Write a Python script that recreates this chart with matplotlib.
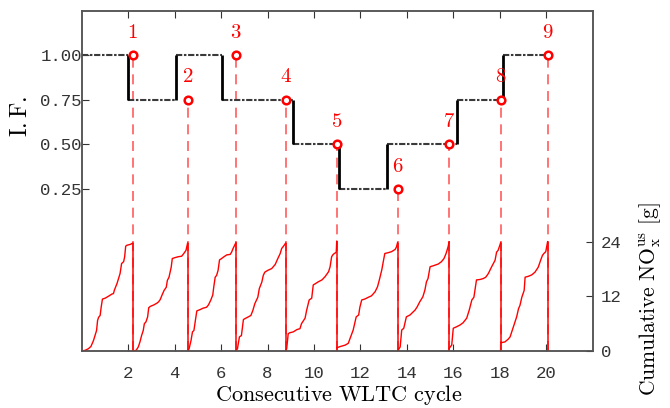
import matplotlib
matplotlib.use("Agg")
import matplotlib.pyplot as plt
import numpy as np

plt.rcParams["mathtext.fontset"] = "cm"
plt.rcParams["font.family"] = ["Liberation Mono", "DejaVu Sans Mono"]

# end of each WLTC cycle and the I.F. evaluated there
cycle_ends = [2.20, 4.56, 6.64, 8.78, 10.98, 13.60, 15.82, 18.04, 20.06]
if_at_end = [1.00, 0.75, 1.00, 0.75, 0.50, 0.25, 0.50, 0.75, 1.00]
point_labels = ["1", "2", "3", "4", "5", "6", "7", "8", "9"]

# running I.F. (step line)
step_edges = [0.0, 1.98, 4.05, 6.05, 9.08, 11.09, 13.13, 16.14, 18.15, 20.06]
step_levels = [1.00, 0.75, 1.00, 0.75, 0.50, 0.25, 0.50, 0.75, 1.00]

# cumulative NOx inside each cycle: fraction of cycle / grams
frac_1 = [0, .065, .13, .18, .23, .26, .29, .31, .33, .36, .38, .405, .46, .52, .59, .62, .64, .69, .72, .75, .78, .82, .84, .86, .88, .95, 1.0]
nox_1 = [0, .15, .5, 1.0, 2.3, 3.4, 4.5, 6.7, 7.4, 7.8, 9.6, 11.4, 11.6, 12.0, 12.5, 12.6, 13.4, 14.8, 15.9, 17.0, 19.2, 19.6, 20.7, 23.0, 23.2, 23.4, 23.7]
frac_2 = [0, .06, .10, .13, .16, .19, .21, .24, .27, .29, .32, .38, .44, .47, .50, .53, .57, .61, .63, .66, .68, .70, .72, .77, .83, .89, .93, .97, 1.0]
nox_2 = [0, .15, .9, 2.0, 3.4, 4.5, 6.0, 6.4, 7.5, 9.5, 9.8, 10.1, 10.5, 10.8, 11.3, 12.2, 13.3, 14.0, 15.5, 16.2, 17.3, 18.4, 20.3, 20.5, 20.7, 20.8, 21.4, 22.1, 23.7]
frac_3 = [0, .03, .07, .10, .13, .16, .19, .26, .32, .39, .43, .48, .52, .54, .57, .60, .63, .66, .69, .74, .81, .88, .91, .94, 1.0]
nox_3 = [0, .5, 2.3, 4.2, 4.5, 6.7, 8.8, 9.1, 9.4, 9.6, 10.1, 11.2, 12.3, 14.0, 16.2, 16.6, 17.7, 20.0, 20.2, 20.6, 21.1, 21.2, 21.7, 22.5, 23.8]
frac_4 = [0, .03, .07, .11, .15, .18, .25, .30, .34, .38, .44, .47, .52, .55, .58, .64, .72, .79, .83, .89, .92, .97, 1.0]
nox_4 = [0, .5, 3.1, 3.4, 6.9, 7.1, 7.5, 7.8, 8.9, 10.4, 11.8, 13.7, 15.1, 16.6, 17.3, 17.7, 18.1, 19.0, 20.0, 21.4, 22.5, 23.2, 23.7]
frac_5 = [0, .02, .05, .08, .15, .22, .28, .31, .38, .41, .46, .51, .54, .57, .64, .71, .77, .84, .87, .90, .93, .99, 1.0]
nox_5 = [0, .5, 3.8, 4.0, 4.2, 4.7, 4.9, 6.0, 7.2, 8.9, 11.2, 11.6, 14.5, 14.7, 15.2, 15.6, 16.3, 17.4, 18.5, 20.7, 21.2, 21.7, 24.1]
frac_6 = [0, .05, .14, .19, .22, .27, .32, .36, .38, .41, .46, .52, .57, .63, .67, .70, .74, .77, .79, .85, .90, .96, .98, 1.0]
nox_6 = [.7, .95, 1.3, 1.7, 2.8, 4.6, 7.5, 7.9, 9.6, 11.2, 11.4, 11.8, 12.1, 13.0, 14.1, 15.6, 17.8, 20.0, 21.4, 21.6, 21.8, 22.3, 22.8, 23.8]
frac_7 = [0, .05, .08, .12, .17, .24, .34, .38, .43, .49, .53, .56, .59, .63, .69, .79, .85, .90, .94, .98, 1.0]
nox_7 = [0, .9, 4.6, 5.0, 7.5, 7.9, 9.0, 9.7, 10.8, 11.9, 13.4, 15.2, 15.9, 18.5, 18.7, 19.1, 19.6, 20.3, 21.4, 22.9, 24.0]
frac_8 = [0, .05, .08, .14, .21, .27, .34, .39, .44, .48, .53, .60, .66, .71, .76, .82, .89, .92, .95, 1.0]
nox_8 = [.6, 1.3, 5.0, 5.3, 5.7, 6.2, 7.2, 9.0, 11.2, 11.8, 15.6, 15.7, 15.9, 16.2, 17.0, 18.4, 19.9, 21.7, 22.1, 23.8]
frac_9 = [0, .09, .16, .20, .27, .34, .38, .41, .45, .50, .52, .59, .66, .73, .80, .85, .89, .92, .96, 1.0]
nox_9 = [1.8, 2.0, 2.6, 3.1, 5.3, 7.5, 9.3, 10.0, 11.8, 13.3, 16.2, 16.4, 16.7, 17.3, 18.4, 19.9, 21.0, 21.4, 21.8, 24.0]

nox_fracs = [frac_1, frac_2, frac_3, frac_4, frac_5, frac_6, frac_7, frac_8, frac_9]
nox_vals = [nox_1, nox_2, nox_3, nox_4, nox_5, nox_6, nox_7, nox_8, nox_9]

spine_col = "#555555"
fig = plt.figure(figsize=(6.7, 4.08), dpi=100)
ax = fig.add_axes([0.122, 0.1397, 0.7626, 0.8341])
ax2 = ax.twinx()

ax.set_xlim(0, 22)
ax.set_ylim(-0.656, 1.248)
ax2.set_ylim(0, 74.7)

# I.F. step line: solid verticals, dense dashed horizontals
for i, lev in enumerate(step_levels):
    ax.hlines(lev, step_edges[i], step_edges[i + 1], color="#3a3a3a", lw=1.5,
              linestyles=[(0, (3, 0.8, 1.2, 0.8))], zorder=3)
for i in range(1, len(step_levels)):
    ax.vlines(step_edges[i], step_levels[i - 1], step_levels[i], color="black", lw=2, zorder=3)

# dashed drop lines from each evaluation point
ax.vlines(cycle_ends, -0.656, if_at_end, color="#ff5c5c", lw=1.2,
          linestyles=[(0, (6, 4))], zorder=2)
ax.plot(cycle_ends, if_at_end, "o", ms=5.5, mfc="white", mec="red", mew=1.8, zorder=4)
for x, y, t in zip(cycle_ends, if_at_end, point_labels):
    ax.text(x, y + 0.075, "$" + t + "$", color="red", fontsize=15, ha="center", va="bottom", zorder=5)

# cumulative NOx curves
start = 0.0
for end, fr, nv in zip(cycle_ends, nox_fracs, nox_vals):
    xs = start + np.array(fr) * (end - start)
    ax2.plot(xs, nv, color="red", lw=1)
    ax2.vlines(end, 0, nv[-1], color="red", lw=1.1)
    start = end

ax.set_xticks(range(2, 21, 2))
ax.set_yticks([0.25, 0.50, 0.75, 1.00])
ax.set_yticklabels(["0.25", "0.50", "0.75", "1.00"])
ax2.set_yticks([0, 12, 24])

ax.tick_params(axis="x", direction="in", top=True, length=5, pad=11, labelsize=12.5, color="#333333", labelcolor="#333333")
ax.tick_params(axis="y", direction="in", length=5, pad=0, labelsize=12.5, color="#333333", labelcolor="#333333")
ax2.tick_params(axis="y", direction="in", length=5, pad=6, labelsize=12.5, color="#333333", labelcolor="#333333")

for a in (ax, ax2):
    for s in a.spines.values():
        s.set_color(spine_col)
        s.set_linewidth(1.1)

ax.set_xlabel(r"$\mathrm{Consecutive\ WLTC\ cycle}$", fontsize=16, va="top")
ax.xaxis.set_label_coords(0.502, -0.095)
ax.set_ylabel(r"$\mathrm{I.F.}$", fontsize=17)
ax.yaxis.set_label_coords(-0.097, 0.688)
ax2.set_ylabel(r"$\mathrm{Cumulative\ NO_x^{us}\ [g]}$", fontsize=15.5)
ax2.yaxis.set_label_coords(1.087, 0.153)

fig.savefig("out.png", dpi=100)
